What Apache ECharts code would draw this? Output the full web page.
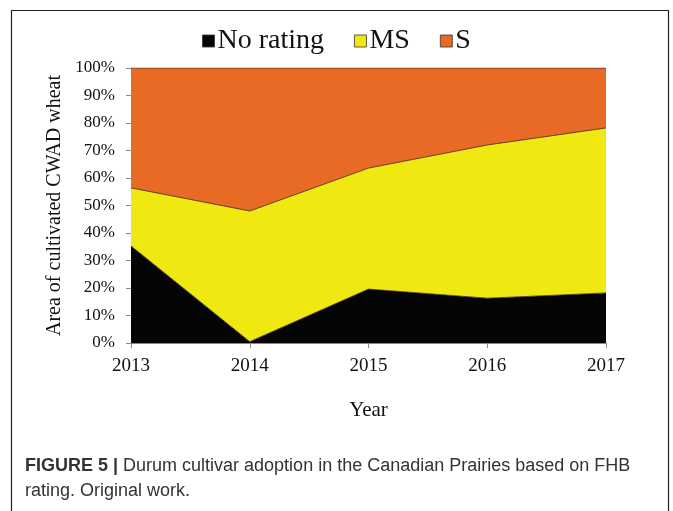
<!DOCTYPE html>
<html>
<head>
<meta charset="utf-8">
<script src="https://cdn.jsdelivr.net/npm/echarts@6/dist/echarts.min.js"></script>
<style>
  html, body { margin: 0; padding: 0; background: #fff; }
  #chart { width: 673px; height: 511px; }
</style>
</head>
<body>
<div id="chart"></div>
<script>
  // data (share of area, %)
  const years = ['2013', '2014', '2015', '2016', '2017']
  const noRating = [35.3, 0.5, 19.6, 16.3, 18.2]
  const ms = [21.1, 47.5, 44.0, 55.7, 60.0]
  const s = [43.6, 52.0, 36.4, 28.0, 21.8]
  const yTicks = [0, 10, 20, 30, 40, 50, 60, 70, 80, 90, 100]

  const serif = '"Liberation Serif", "Times New Roman", serif'
  const sans = '"Liberation Sans", Arial, sans-serif'
  let myChart = echarts.init(document.getElementById('chart'))

  function area(name, data, color) {
    return {
      name: name,
      type: 'line',
      stack: 'total',
      data: data,
      symbol: 'none',
      color: color,
      lineStyle: { color: '#3a2a20', width: 0.8 },
      areaStyle: { color: color, opacity: 1 }
    }
  }

  myChart.setOption({
    animation: false,
    legend: {
      top: 22,
      left: 'center',
      icon: 'rect',
      itemWidth: 12,
      itemHeight: 12,
      itemGap: 30,
      textStyle: { fontFamily: serif, fontSize: 28, color: '#111', padding: [0, 0, 0, -2] },
      data: [
        { name: 'No rating', itemStyle: { borderColor: '#333', borderWidth: 0.8 } },
        { name: 'MS', itemStyle: { borderColor: '#333', borderWidth: 0.8 } },
        { name: 'S', itemStyle: { borderColor: '#333', borderWidth: 0.8 } }
      ]
    },
    grid: { left: 131, right: 67, top: 68, bottom: 168 },
    xAxis: {
      type: 'category',
      data: years,
      boundaryGap: false,
      name: 'Year',
      nameLocation: 'middle',
      nameGap: 57,
      nameTextStyle: { fontFamily: serif, fontSize: 21, color: '#111' },
      axisLine: { lineStyle: { color: '#888' } },
      axisTick: { alignWithLabel: true, length: 5, lineStyle: { color: '#888' } },
      axisLabel: { fontFamily: serif, fontSize: 19, color: '#111', margin: 14 }
    },
    yAxis: {
      type: 'value',
      min: 0,
      max: 100,
      interval: 10,
      name: 'Area of cultivated CWAD wheat',
      nameLocation: 'middle',
      nameGap: 61,
      nameTextStyle: { fontFamily: serif, fontSize: 20, color: '#111' },
      axisLine: { show: true, lineStyle: { color: '#888' } },
      axisTick: { show: true, length: 5, lineStyle: { color: '#888' } },
      splitLine: { show: false },
      axisLabel: {
        fontFamily: serif, fontSize: 17, color: '#111', margin: 16,
        formatter: function (v) { return yTicks.indexOf(v) >= 0 ? v + '%' : '' }
      }
    },
    series: [
      area('No rating', noRating, '#050505'),
      area('MS', ms, '#f0e811'),
      area('S', s, '#e86a24')
    ],
    graphic: [
      {
        type: 'rect',
        shape: { x: 11.5, y: 10.5, width: 657, height: 520 },
        style: { fill: 'none', stroke: '#222', lineWidth: 1.2 },
        silent: true
      },
      {
        type: 'text',
        left: 25,
        top: 454,
        style: {
          text: '{b|FIGURE 5 |} Durum cultivar adoption in the Canadian Prairies based on FHB\nrating. Original work.',
          fontFamily: sans,
          fontSize: 18,
          lineHeight: 25,
          fill: '#333',
          rich: {
            b: { fontFamily: sans, fontSize: 18, fontWeight: 'bold', fill: '#333' }
          }
        }
      }
    ]
  })
</script>
</body>
</html>
